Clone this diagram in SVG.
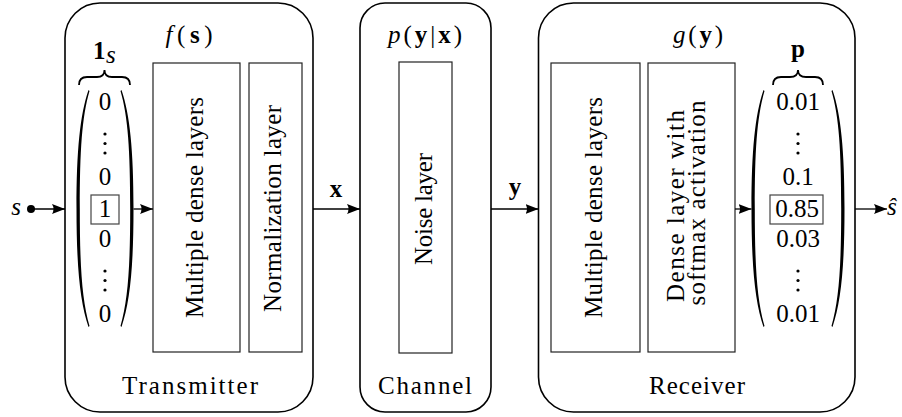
<svg xmlns="http://www.w3.org/2000/svg" width="902" height="417" viewBox="0 0 902 417" font-family="'Liberation Serif','DejaVu Serif',serif">
<style>
text{font-family:'Liberation Serif','DejaVu Serif',serif;font-size:25px;fill:#000}
.outer{fill:none;stroke:#000;stroke-width:1.6}
.inner{fill:none;stroke:#222;stroke-width:1.2}
.sel{fill:none;stroke:#444;stroke-width:1.2}
.conn{fill:none;stroke:#000;stroke-width:1.3}
.brace{fill:none;stroke:#000;stroke-width:1.8}
.paren{fill:#000;stroke:none}
.dot{fill:#000}
.it{font-style:italic}
.bf{font-weight:bold}
.mid{text-anchor:middle}
</style>
<defs>
<marker id="ah" markerUnits="userSpaceOnUse" markerWidth="15" markerHeight="12" refX="13" refY="5" orient="auto">
<path d="M0,0 L13,5 L0,10 Q3,5 0,0 Z" fill="#000"/>
</marker>
</defs>

<g id="transmitter">
<rect class="outer" x="65" y="3" width="248" height="409" rx="35" ry="35"/>
<text class="mid" x="189" y="43" textLength="47" lengthAdjust="spacing"><tspan class="it">f</tspan>(<tspan class="bf">s</tspan>)</text>
<text class="mid" x="190" y="394" textLength="136" lengthAdjust="spacing">Transmitter</text>
</g>

<g id="onehot">
<text class="bf" x="93" y="59">1</text><text class="it" x="106" y="63" font-size="17">s</text>
<path class="brace" d="M79,85 Q79,77 87,77 L97,77 Q104.5,77 104.5,70 Q104.5,77 112,77 L122,77 Q130,77 130,85"/>
<path class="paren" d="M88.5,90 C80,115 76.5,150 76.5,208.5 C76.5,267 80,302 88.5,327 L89.5,326 C82,300 79.8,267 79.8,208.5 C79.8,150 82,117 89.5,91 Z"/>
<path class="paren" d="M121.5,90 C130,115 133.5,150 133.5,208.5 C133.5,267 130,302 121.5,327 L120.5,326 C128,300 130.2,267 130.2,208.5 C130.2,150 128,117 120.5,91 Z"/>
<text class="mid" x="105" y="110">0</text>
<circle class="dot" cx="105" cy="134" r="1.6"/><circle class="dot" cx="105" cy="143.5" r="1.6"/><circle class="dot" cx="105" cy="153" r="1.6"/>
<text class="mid" x="105" y="185">0</text>
<rect class="sel" x="91" y="195" width="28" height="29"/>
<text class="mid" x="105" y="217">1</text>
<text class="mid" x="105" y="247">0</text>
<circle class="dot" cx="105" cy="271" r="1.6"/><circle class="dot" cx="105" cy="280.5" r="1.6"/><circle class="dot" cx="105" cy="290" r="1.6"/>
<text class="mid" x="105" y="322">0</text>
</g>

<g id="tx-dense">
<rect class="inner" x="153" y="63" width="87" height="289"/>
<text class="mid" transform="translate(203,207.5) rotate(-90)" textLength="221" lengthAdjust="spacing">Multiple dense layers</text>
</g>

<g id="tx-norm">
<rect class="inner" x="249" y="63" width="53" height="289"/>
<text class="mid" transform="translate(281,208.5) rotate(-90)" textLength="207" lengthAdjust="spacing">Normalization layer</text>
</g>

<g id="channel">
<rect class="outer" x="360" y="3" width="131" height="409" rx="25" ry="25"/>
<text class="mid" x="425" y="43" textLength="74" lengthAdjust="spacing"><tspan class="it">p</tspan>(<tspan class="bf">y</tspan>|<tspan class="bf">x</tspan>)</text>
<text class="mid" x="425" y="394" textLength="94" lengthAdjust="spacing">Channel</text>
</g>

<g id="noise">
<rect class="inner" x="399" y="62" width="53" height="291"/>
<text class="mid" transform="translate(432,209) rotate(-90)" textLength="112" lengthAdjust="spacing">Noise layer</text>
</g>

<g id="receiver">
<rect class="outer" x="538.5" y="3" width="316.5" height="409" rx="35" ry="35"/>
<text class="mid" x="698" y="43" textLength="50" lengthAdjust="spacing"><tspan class="it">g</tspan>(<tspan class="bf">y</tspan>)</text>
<text class="mid" x="697" y="394" textLength="96" lengthAdjust="spacing">Receiver</text>
</g>

<g id="rx-dense">
<rect class="inner" x="551" y="63" width="89" height="289"/>
<text class="mid" transform="translate(602,207.5) rotate(-90)" textLength="221" lengthAdjust="spacing">Multiple dense layers</text>
</g>

<g id="rx-softmax">
<rect class="inner" x="648" y="63" width="87" height="289"/>
<text class="mid" transform="translate(684,206) rotate(-90)" textLength="192" lengthAdjust="spacing">Dense layer with</text>
<text class="mid" transform="translate(705,203) rotate(-90)" textLength="205" lengthAdjust="spacing">softmax activation</text>
</g>

<g id="prob">
<text class="bf mid" x="798" y="57">p</text>
<path class="brace" d="M773,85 Q773,77 781,77 L790,77 Q798,77 798,70 Q798,77 806,77 L815,77 Q823,77 823,85"/>
<path class="paren" d="M763.5,90 C755,115 751.5,150 751.5,208.5 C751.5,267 755,302 763.5,327 L764.5,326 C757,300 754.8,267 754.8,208.5 C754.8,150 757,117 764.5,91 Z"/>
<path class="paren" d="M832.5,90 C841,115 844.5,150 844.5,208.5 C844.5,267 841,302 832.5,327 L831.5,326 C839,300 841.2,267 841.2,208.5 C841.2,150 839,117 831.5,91 Z"/>
<text class="mid" x="798" y="110">0.01</text>
<circle class="dot" cx="798" cy="134" r="1.6"/><circle class="dot" cx="798" cy="143.5" r="1.6"/><circle class="dot" cx="798" cy="153" r="1.6"/>
<text class="mid" x="798" y="185">0.1</text>
<rect class="sel" x="770" y="195" width="53" height="29"/>
<text class="mid" x="797" y="217">0.85</text>
<text class="mid" x="798" y="247">0.03</text>
<circle class="dot" cx="798" cy="271" r="1.6"/><circle class="dot" cx="798" cy="280.5" r="1.6"/><circle class="dot" cx="798" cy="290" r="1.6"/>
<text class="mid" x="798" y="322">0.01</text>
</g>

<g id="io">
<text class="it mid" x="16" y="215">s</text>
<circle cx="31" cy="209" r="4" fill="#000"/>
<text class="it" x="887" y="215">ŝ</text>
<text class="bf mid" x="336" y="197">x</text>
<text class="bf mid" x="515" y="195">y</text>
</g>

<g id="connectors">
<line class="conn" x1="31" y1="209" x2="65" y2="209" marker-end="url(#ah)"/>
<line class="conn" x1="133.5" y1="209" x2="153" y2="209" marker-end="url(#ah)"/>
<line class="conn" x1="313" y1="209" x2="360" y2="209" marker-end="url(#ah)"/>
<line class="conn" x1="491" y1="209" x2="538.5" y2="209" marker-end="url(#ah)"/>
<line class="conn" x1="735" y1="209" x2="751.5" y2="209" marker-end="url(#ah)"/>
<line class="conn" x1="855" y1="209" x2="887" y2="209" marker-end="url(#ah)"/>
</g>
</svg>
